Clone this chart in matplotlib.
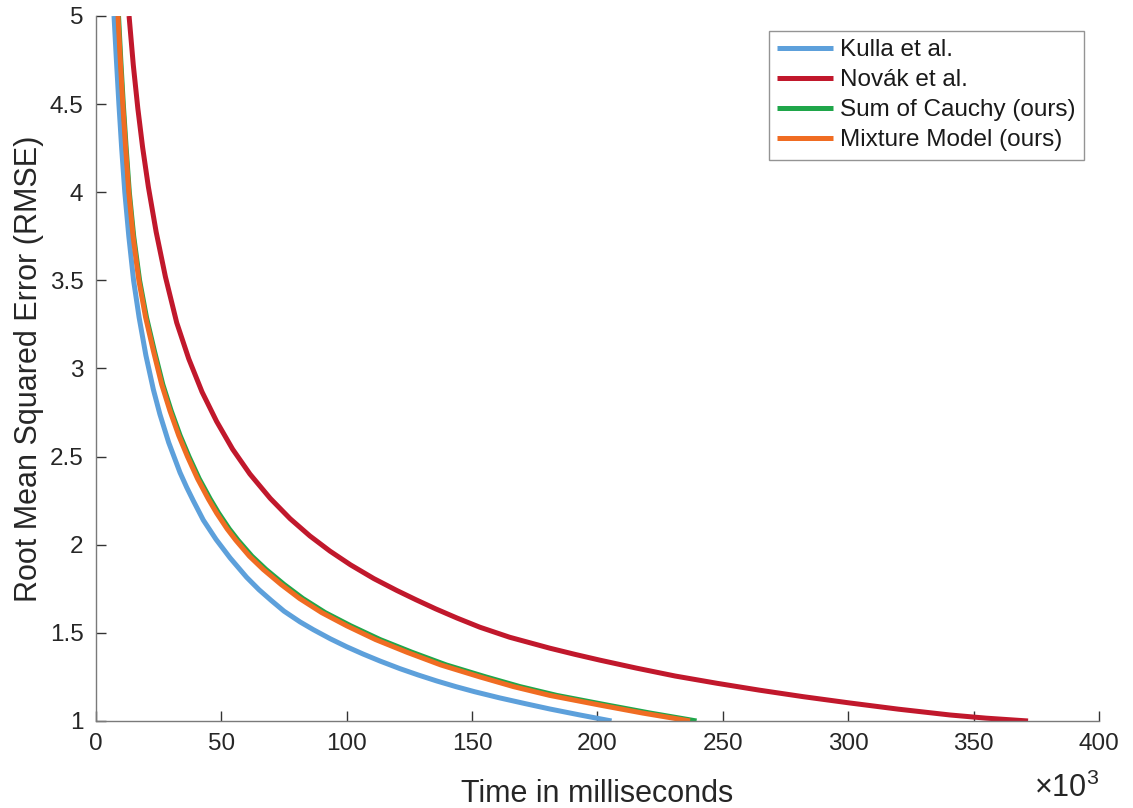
import matplotlib
matplotlib.use("Agg")
import matplotlib.pyplot as plt
import numpy as np

plt.rcParams['font.family'] = ['Liberation Sans', 'DejaVu Sans']
plt.rcParams['mathtext.fontset'] = 'custom'
plt.rcParams['mathtext.rm'] = 'Liberation Sans'

# time in thousands of milliseconds, RMSE
t_kulla = [7.2, 8.15, 9.15, 10.25, 11.5, 13.1, 15.0, 17.2, 19.9, 22.9, 25.5, 29.0,
           33.5, 36.2, 38.8, 42.8, 47.9, 53.5, 60.1, 65.0, 69.8, 75.0, 81.4, 86.7,
           93.5, 100.0, 106.5, 113.3, 121.2, 128.5, 135.9, 143.5, 151.0, 161.0,
           171.0, 181.0, 193.0, 205.6]
e_kulla = [5.00, 4.75, 4.50, 4.25, 4.00, 3.75, 3.50, 3.29, 3.075, 2.88, 2.74, 2.58,
           2.41, 2.325, 2.25, 2.14, 2.03, 1.925, 1.815, 1.745, 1.685, 1.623, 1.562, 1.518,
           1.466, 1.421, 1.38, 1.34, 1.297, 1.261, 1.227, 1.195, 1.166, 1.131,
           1.099, 1.068, 1.034, 1.00]

t_novak = [13.2, 14.9, 16.7, 18.6, 20.9, 24.0, 27.7, 32.2, 37.0, 42.3, 48.1, 54.5,
           61.4, 69.5, 77.4, 85.3, 93.3, 101.5, 110.8, 119.9, 127.6, 135.5, 144.0,
           153.1, 165.0, 181.0, 191.0, 201.0, 215.5, 231.0, 247.6, 264.5, 282.0,
           300.7, 320.0, 340.6, 355.0, 371.7]
e_novak = [5.00, 4.72, 4.475, 4.255, 4.03, 3.775, 3.52, 3.26, 3.055, 2.867, 2.70, 2.542,
           2.401, 2.263, 2.148, 2.05, 1.964, 1.886, 1.808, 1.741, 1.688, 1.636, 1.584,
           1.532, 1.475, 1.413, 1.378, 1.345, 1.30, 1.255, 1.214, 1.175, 1.138,
           1.102, 1.067, 1.034, 1.016, 1.00]

t_cauchy = [9.0, 9.9, 10.9, 12.05, 13.3, 15.05, 17.4, 20.15, 23.3, 26.65, 30.0, 33.55,
            37.1, 41.15, 45.55, 48.9, 53.15, 56.7, 62.2, 67.8, 75.0, 82.5, 91.4, 101.6,
            113.3, 126.0, 139.7, 155.5, 169.1, 183.8, 204.0, 221.0, 239.5]
e_cauchy = [5.00, 4.75, 4.50, 4.25, 4.00, 3.75, 3.50, 3.29, 3.10, 2.91, 2.76, 2.62,
            2.50, 2.375, 2.26, 2.18, 2.09, 2.025, 1.935, 1.86, 1.775, 1.695, 1.615, 1.54,
            1.462, 1.39, 1.318, 1.25, 1.195, 1.145, 1.09, 1.045, 1.00]

t_mixture = [8.8, 9.7, 10.7, 11.85, 13.1, 14.8, 17.1, 19.8, 22.9, 26.2, 29.5, 33.0,
             36.5, 40.5, 44.8, 48.1, 52.3, 55.8, 61.2, 66.7, 73.8, 81.2, 90.0, 100.0,
             111.5, 124.0, 137.5, 153.1, 166.5, 181.0, 201.0, 218.0, 236.9]
e_mixture = [5.00, 4.75, 4.50, 4.25, 4.00, 3.75, 3.50, 3.29, 3.10, 2.91, 2.76, 2.62,
             2.50, 2.375, 2.26, 2.18, 2.09, 2.025, 1.935, 1.86, 1.775, 1.695, 1.615, 1.54,
             1.462, 1.39, 1.318, 1.25, 1.195, 1.145, 1.09, 1.045, 1.00]

labels = ['Kulla et al.', 'Novák et al.', 'Sum of Cauchy (ours)', 'Mixture Model (ours)']
colors = ['#5DA0DB', '#C1182C', '#1FA64A', '#F06C22']

fig = plt.figure(figsize=(11.33, 8.08), dpi=100)
ax = fig.add_axes([0.0847, 0.1077, 0.8853, 0.8725])

series = [(t_kulla, e_kulla), (t_novak, e_novak),
          (t_cauchy, e_cauchy), (t_mixture, e_mixture)]
for (t, e), lab, c in zip(series, labels, colors):
    ax.plot(np.array(t) * 1e3, e, color=c, lw=3.6, label=lab,
            solid_capstyle='butt', solid_joinstyle='round')

ax.set_xlim(0, 400e3)
ax.set_ylim(1, 5)
xt = np.arange(0, 400001, 50000)
ax.set_xticks(xt)
ax.set_xticklabels([f'{int(v / 1000)}' for v in xt])
ax.set_yticks(np.arange(1, 5.01, 0.5))
ax.set_yticklabels(['1', '1.5', '2', '2.5', '3', '3.5', '4', '4.5', '5'])

for side in ['top', 'right']:
    ax.spines[side].set_visible(False)
for side in ['left', 'bottom']:
    ax.spines[side].set_color('#7a7a7a')
    ax.spines[side].set_linewidth(1.0)

ax.tick_params(direction='in', length=7, width=1.0, color='#333333',
               labelsize=17.5, labelcolor='#262626', pad=9)

# exponent of the time axis, below the last tick label
ax.text(1.0, -0.074, r'$\times10^3$', transform=ax.transAxes, ha='right',
        va='top', fontsize=22, color='#262626')

ax.set_xlabel('Time in milliseconds', fontsize=22, color='#262626', labelpad=17)
ax.set_ylabel('Root Mean Squared Error (RMSE)', fontsize=22, color='#262626', labelpad=4)

leg = ax.legend(loc='upper right', fontsize=17.5, frameon=True, fancybox=False,
                handlelength=2.3, handletextpad=0.3, labelspacing=0.33,
                borderpad=0.35, borderaxespad=0.6)
leg.get_frame().set_edgecolor('#7a7a7a')
leg.get_frame().set_linewidth(1.0)
for txt in leg.get_texts():
    txt.set_color('#1a1a1a')

fig.savefig('out.png', dpi=100)
